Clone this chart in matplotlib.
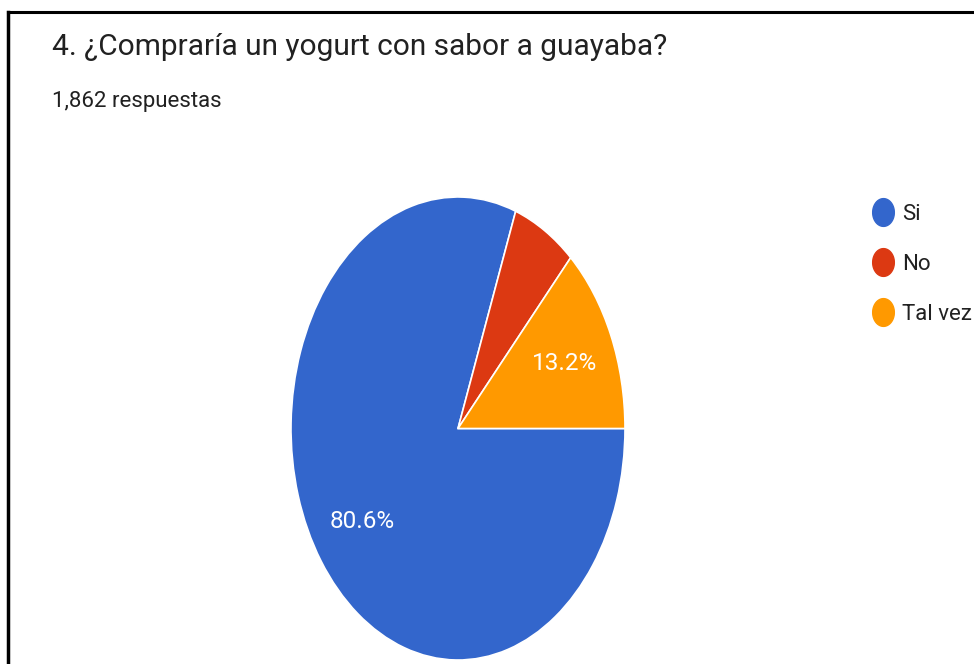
import numpy as np
import matplotlib
matplotlib.use("Agg")
import matplotlib.pyplot as plt
from matplotlib import font_manager
from matplotlib.lines import Line2D
from matplotlib.path import Path

# datos
title = "4. ¿Compraría un yogurt con sabor a guayaba?"
subtitle = "1,862 respuestas"
labels = ["Si", "No", "Tal vez"]
counts = [1501, 115, 246]
colors = ["#3366cc", "#dc3912", "#ff9900"]

# fuente angosta si existe
names = {f.name for f in font_manager.fontManager.ttflist}
fam = "Liberation Sans Narrow" if "Liberation Sans Narrow" in names else "Roboto"
plt.rcParams["font.family"] = [fam, "DejaVu Sans"]

W, H = 974, 664
fig = plt.figure(figsize=(W / 100, H / 100), dpi=100)

# pie (estirado verticalmente como en la captura)
ax = fig.add_axes([291 / W, 4 / H, 334 / W, 463 / H])
wedges, texts, autotexts = ax.pie(
    counts, colors=colors, startangle=0, counterclock=False,
    autopct=lambda p: f"{p:.1f}%" if p > 10 else "",
    pctdistance=0.7, wedgeprops=dict(edgecolor="white", linewidth=1.2),
    textprops=dict(color="white", fontsize=17.5))
ax.set_aspect("auto")
ax.set_xlim(-1, 1)
ax.set_ylim(-1, 1)

# titulo
fig.text(52 / W, 1 - 55 / H, title, fontsize=21.5, color="#212121")
fig.text(52 / W, 1 - 107 / H, subtitle, fontsize=16, color="#212121")

# leyenda con marcadores elipticos
t = np.linspace(0, 2 * np.pi, 60)
ell = Path(np.column_stack([0.78 * np.cos(t), np.sin(t)]))
handles = [Line2D([], [], marker=ell, linestyle="none", markersize=20,
                  markerfacecolor=c, markeredgecolor=c) for c in colors]
leg = fig.legend(handles, labels, loc="upper left", bbox_to_anchor=(870 / W, 1 - 204 / H),
                 frameon=False, fontsize=16, labelspacing=1.3, handletextpad=0.23,
                 handlelength=1.2, borderaxespad=0, borderpad=0)
for txt in leg.get_texts():
    txt.set_color("#212121")

# marco negro (arriba e izquierda)
fig.add_artist(Line2D([8 / W, 1], [1 - 12 / H, 1 - 12 / H], color="black", lw=2.2))
fig.add_artist(Line2D([8 / W, 8 / W], [0, 1 - 12 / H], color="black", lw=2.5))

fig.savefig("out.png", dpi=100, facecolor="white")
